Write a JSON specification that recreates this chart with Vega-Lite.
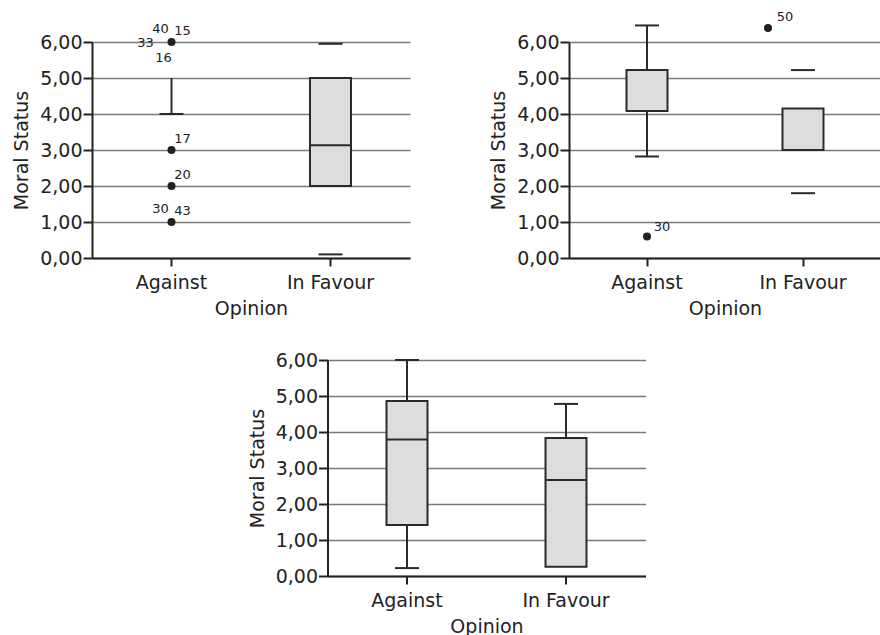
{
  "$schema": "https://vega.github.io/schema/vega-lite/v6.json",
  "padding": {"left": 12, "top": 10, "right": 0, "bottom": 0},
  "background": "white",
  "datasets": {
    "p1": [
      {"opinion": "Against", "part": "whisker", "value": 4, "high": 5},
      {"opinion": "Against", "part": "cap", "value": 4},
      {"opinion": "Against", "part": "outlier", "value": 6, "place": "center"},
      {"opinion": "Against", "part": "outlier", "value": 3, "place": "center"},
      {"opinion": "Against", "part": "outlier", "value": 2, "place": "center"},
      {"opinion": "Against", "part": "outlier", "value": 1, "place": "center"},
      {"opinion": "Against", "part": "label", "value": 6, "label": "40", "side": "upper-left", "place": "center"},
      {"opinion": "Against", "part": "label", "value": 6, "label": "15", "side": "upper-right", "place": "center"},
      {"opinion": "Against", "part": "label", "value": 6, "label": "33", "side": "left", "place": "center"},
      {"opinion": "Against", "part": "label", "value": 6, "label": "16", "side": "lower-left", "place": "center"},
      {"opinion": "Against", "part": "label", "value": 3, "label": "17", "side": "upper-right", "place": "center"},
      {"opinion": "Against", "part": "label", "value": 2, "label": "20", "side": "upper-right", "place": "center"},
      {"opinion": "Against", "part": "label", "value": 1, "label": "30", "side": "upper-left", "place": "center"},
      {"opinion": "Against", "part": "label", "value": 1, "label": "43", "side": "upper-right", "place": "center"},
      {"opinion": "In Favour", "part": "box", "value": 2, "high": 5},
      {"opinion": "In Favour", "part": "median", "value": 3.13},
      {"opinion": "In Favour", "part": "cap", "value": 5.95},
      {"opinion": "In Favour", "part": "cap", "value": 0.1}
    ],
    "p2": [
      {"opinion": "Against", "part": "whisker", "value": 2.82, "high": 6.46},
      {"opinion": "Against", "part": "box", "value": 4.08, "high": 5.22},
      {"opinion": "Against", "part": "cap", "value": 6.46},
      {"opinion": "Against", "part": "cap", "value": 2.82},
      {"opinion": "Against", "part": "outlier", "value": 0.6, "place": "center"},
      {"opinion": "Against", "part": "label", "value": 0.6, "label": "30", "side": "upper-right", "place": "center"},
      {"opinion": "In Favour", "part": "box", "value": 3.0, "high": 4.15},
      {"opinion": "In Favour", "part": "cap", "value": 5.22},
      {"opinion": "In Favour", "part": "cap", "value": 1.8},
      {"opinion": "In Favour", "part": "outlier", "value": 6.39, "place": "left"},
      {"opinion": "In Favour", "part": "label", "value": 6.39, "label": "50", "side": "upper-right", "place": "left"}
    ],
    "p3": [
      {"opinion": "Against", "part": "whisker", "value": 0.22, "high": 6.0},
      {"opinion": "Against", "part": "box", "value": 1.42, "high": 4.86},
      {"opinion": "Against", "part": "median", "value": 3.79},
      {"opinion": "Against", "part": "cap", "value": 6.0},
      {"opinion": "Against", "part": "cap", "value": 0.22},
      {"opinion": "In Favour", "part": "whisker", "value": 0.26, "high": 4.78},
      {"opinion": "In Favour", "part": "box", "value": 0.26, "high": 3.83},
      {"opinion": "In Favour", "part": "median", "value": 2.67},
      {"opinion": "In Favour", "part": "cap", "value": 4.78}
    ]
  },
  "vconcat": [
    {
      "hconcat": [
        {
          "width": 318, "height": 216,
          "data": {"name": "p1"},
          "encoding": {
            "x": {"field": "opinion", "type": "nominal", "title": "Opinion", "scale": {"domain": ["Against", "In Favour"], "paddingInner": 0, "paddingOuter": 0}},
            "y": {"field": "value", "type": "quantitative", "title": "Moral Status", "scale": {"domain": [0, 6], "nice": false}, "axis": {"values": [0, 1, 2, 3, 4, 5, 6]}}
          },
          "layer": [
            {"transform": [{"filter": "datum.part === 'whisker'"}], "mark": {"type": "rule", "color": "#2a2a2a", "strokeWidth": 2, "opacity": 1}, "encoding": {"y2": {"field": "high"}}},
            {"transform": [{"filter": "datum.part === 'box'"}], "mark": {"type": "bar", "size": 41, "fill": "#dcdddf", "stroke": "#2a2a2a", "strokeWidth": 2, "opacity": 1}, "encoding": {"y2": {"field": "high"}}},
            {"transform": [{"filter": "datum.part === 'median'"}], "mark": {"type": "tick", "size": 41, "thickness": 2, "color": "#2a2a2a", "opacity": 1}},
            {"transform": [{"filter": "datum.part === 'cap'"}], "mark": {"type": "tick", "size": 24, "thickness": 2, "color": "#2a2a2a", "opacity": 1}},
            {"transform": [{"filter": "datum.part === 'outlier' && datum.place === 'center'"}], "mark": {"type": "circle", "size": 64, "color": "#222", "opacity": 1}},
            {"transform": [{"filter": "datum.part === 'label' && datum.side === 'upper-left'"}], "mark": {"type": "text", "dx": -11, "dy": -13, "fontSize": 13, "color": "#222"}, "encoding": {"text": {"field": "label"}}},
            {"transform": [{"filter": "datum.part === 'label' && datum.side === 'upper-right'"}], "mark": {"type": "text", "dx": 11, "dy": -11, "fontSize": 13, "color": "#222"}, "encoding": {"text": {"field": "label"}}},
            {"transform": [{"filter": "datum.part === 'label' && datum.side === 'left'"}], "mark": {"type": "text", "dx": -26, "dy": 1, "fontSize": 13, "color": "#222"}, "encoding": {"text": {"field": "label"}}},
            {"transform": [{"filter": "datum.part === 'label' && datum.side === 'lower-left'"}], "mark": {"type": "text", "dx": -8, "dy": 16, "fontSize": 13, "color": "#222"}, "encoding": {"text": {"field": "label"}}}
          ]
        },
        {
          "width": 312, "height": 216,
          "data": {"name": "p2"},
          "encoding": {
            "x": {"field": "opinion", "type": "nominal", "title": "Opinion", "scale": {"domain": ["Against", "In Favour"], "paddingInner": 0, "paddingOuter": 0}},
            "y": {"field": "value", "type": "quantitative", "title": "Moral Status", "scale": {"domain": [0, 6], "nice": false}, "axis": {"values": [0, 1, 2, 3, 4, 5, 6]}}
          },
          "layer": [
            {"transform": [{"filter": "datum.part === 'whisker'"}], "mark": {"type": "rule", "color": "#2a2a2a", "strokeWidth": 2, "opacity": 1}, "encoding": {"y2": {"field": "high"}}},
            {"transform": [{"filter": "datum.part === 'box'"}], "mark": {"type": "bar", "size": 41, "fill": "#dcdddf", "stroke": "#2a2a2a", "strokeWidth": 2, "opacity": 1}, "encoding": {"y2": {"field": "high"}}},
            {"transform": [{"filter": "datum.part === 'cap'"}], "mark": {"type": "tick", "size": 24, "thickness": 2, "color": "#2a2a2a", "opacity": 1}},
            {"transform": [{"filter": "datum.part === 'outlier' && datum.place === 'center'"}], "mark": {"type": "circle", "size": 64, "color": "#222", "opacity": 1}},
            {"transform": [{"filter": "datum.part === 'outlier' && datum.place === 'left'"}], "mark": {"type": "circle", "size": 64, "color": "#222", "opacity": 1, "xOffset": -35}},
            {"transform": [{"filter": "datum.part === 'label' && datum.side === 'upper-right' && datum.place === 'center'"}], "mark": {"type": "text", "dx": 15, "dy": -9, "fontSize": 13, "color": "#222"}, "encoding": {"text": {"field": "label"}}},
            {"transform": [{"filter": "datum.part === 'label' && datum.side === 'upper-right' && datum.place === 'left'"}], "mark": {"type": "text", "dx": 17, "dy": -11, "xOffset": -35, "fontSize": 13, "color": "#222"}, "encoding": {"text": {"field": "label"}}}
          ]
        }
      ],
      "spacing": 159,
      "bounds": "flush"
    },
    {
      "width": 318, "height": 216,
      "data": {"name": "p3"},
      "encoding": {
        "x": {"field": "opinion", "type": "nominal", "title": "Opinion", "scale": {"domain": ["Against", "In Favour"], "paddingInner": 0, "paddingOuter": 0}},
        "y": {"field": "value", "type": "quantitative", "title": "Moral Status", "scale": {"domain": [0, 6], "nice": false}, "axis": {"values": [0, 1, 2, 3, 4, 5, 6]}}
      },
      "layer": [
        {"transform": [{"filter": "datum.part === 'whisker'"}], "mark": {"type": "rule", "color": "#2a2a2a", "strokeWidth": 2, "opacity": 1}, "encoding": {"y2": {"field": "high"}}},
        {"transform": [{"filter": "datum.part === 'box'"}], "mark": {"type": "bar", "size": 41, "fill": "#dcdddf", "stroke": "#2a2a2a", "strokeWidth": 2, "opacity": 1}, "encoding": {"y2": {"field": "high"}}},
        {"transform": [{"filter": "datum.part === 'median'"}], "mark": {"type": "tick", "size": 41, "thickness": 2, "color": "#2a2a2a", "opacity": 1}},
        {"transform": [{"filter": "datum.part === 'cap'"}], "mark": {"type": "tick", "size": 24, "thickness": 2, "color": "#2a2a2a", "opacity": 1}}
      ]
    }
  ],
  "spacing": 33,
  "center": true,
  "config": {
    "view": {"stroke": null},
    "font": "DejaVu Sans",
    "axis": {
      "labelFont": "DejaVu Sans", "titleFont": "DejaVu Sans",
      "labelFontSize": 19, "titleFontSize": 19, "titleFontWeight": "normal",
      "labelColor": "#222", "titleColor": "#222",
      "domainColor": "#222", "domainWidth": 2,
      "tickColor": "#222", "tickWidth": 2,
      "gridColor": "#7a7a7a", "gridWidth": 1.5
    },
    "axisY": {"labelExpr": "replace(format(datum.value, '.2f'), '.', ',')", "tickSize": 9, "labelPadding": 1, "titlePadding": 8, "grid": true},
    "axisX": {"labelAngle": 0, "tickSize": 8, "labelPadding": 7, "titlePadding": 7, "grid": false}
  }
}
